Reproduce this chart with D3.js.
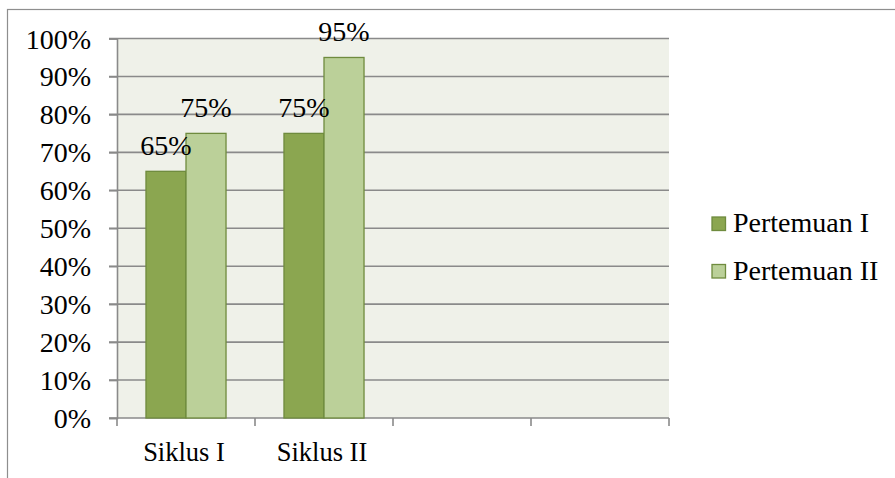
<!DOCTYPE html>
<html>
<head>
<meta charset="utf-8">
<script src="https://cdn.jsdelivr.net/npm/d3@7"></script>
<style>
html,body{margin:0;padding:0;background:#fff;}
svg{display:block;}
text{font-family:"Liberation Serif",serif;fill:#000;}
</style>
</head>
<body>
<script>
const categories = ["Siklus I", "Siklus II", "", ""];
const seriesNames = ["Pertemuan I", "Pertemuan II"];
const pertemuan1 = [0.65, 0.75, null, null];
const pertemuan2 = [0.75, 0.95, null, null];
const yTicks = [0, 0.1, 0.2, 0.3, 0.4, 0.5, 0.6, 0.7, 0.8, 0.9, 1.0];
const colors = ["#8ba650", "#bbd099"];
const strokeColor = "#6f8b3e";

const W = 895, H = 478;
const svg = d3.select("body").append("svg").attr("width", W).attr("height", H);

// outer border
svg.append("rect").attr("x", 7.5).attr("y", 9.5).attr("width", 900).attr("height", 500)
  .attr("fill", "none").attr("stroke", "#8e8e8e").attr("stroke-width", 1.2);

const plot = {left: 117, right: 669, top: 38.5, bottom: 418};

const x = d3.scaleBand().domain(d3.range(categories.length)).range([plot.left, plot.right]).paddingInner(0).paddingOuter(0);
const y = d3.scaleLinear().domain([0, 1]).range([plot.bottom, plot.top]);
const groupFrac = 0.58;
const x1 = d3.scaleBand().domain([0, 1]).range([0, x.bandwidth() * groupFrac]);

svg.append("rect").attr("x", plot.left).attr("y", plot.top)
  .attr("width", plot.right - plot.left).attr("height", plot.bottom - plot.top)
  .attr("fill", "#eff1e9");

// gridlines
svg.append("g").selectAll("line").data(yTicks.filter(d => d > 0)).join("line")
  .attr("x1", plot.left - 8).attr("x2", plot.right)
  .attr("y1", d => y(d)).attr("y2", d => y(d))
  .attr("stroke", "#8a8a8a").attr("stroke-width", 1.6);

// y axis
const yAxis = d3.axisLeft(y).tickValues(yTicks).tickFormat(d3.format(".0%")).tickSize(8).tickPadding(18);
const gy = svg.append("g").attr("transform", `translate(${plot.left},0)`).call(yAxis);
gy.select(".domain").attr("stroke", "#8a8a8a").attr("stroke-width", 1.6);
gy.selectAll(".tick line").attr("stroke", "#8a8a8a").attr("stroke-width", 1.6);
gy.selectAll(".tick text").style("font-family", "Liberation Serif").style("font-size", "28px").attr("fill", "#000").attr("dy", "0.34em");

// x axis
const gx = svg.append("g").attr("transform", `translate(0,${plot.bottom})`);
gx.append("line").attr("x1", plot.left - 8).attr("x2", plot.right).attr("y1", 0).attr("y2", 0)
  .attr("stroke", "#8a8a8a").attr("stroke-width", 1.6);
const boundaries = d3.range(categories.length + 1).map(i => i < categories.length ? x(i) : x(categories.length - 1) + x.bandwidth());
gx.selectAll("line.tk").data(boundaries).join("line").attr("class", "tk")
  .attr("x1", d => d).attr("x2", d => d).attr("y1", 0).attr("y2", 8)
  .attr("stroke", "#8a8a8a").attr("stroke-width", 1.6);
gx.selectAll("text").data(categories).join("text")
  .attr("x", (d, i) => x(i) + x.bandwidth() / 2 - 2).attr("y", 43)
  .attr("text-anchor", "middle").style("font-size", "26.5px").text(d => d);

// bars
const series = [pertemuan1, pertemuan2];
const gb = svg.append("g");
series.forEach((vals, s) => {
  const offset = x.bandwidth() * (1 - groupFrac) / 2;
  const data = vals.map((v, i) => ({v, i})).filter(d => d.v != null);
  gb.selectAll(null).data(data).join("rect")
    .attr("x", d => x(d.i) + offset + x1(s))
    .attr("y", d => y(d.v))
    .attr("width", x1.bandwidth())
    .attr("height", d => y(0) - y(d.v))
    .attr("fill", colors[s]).attr("stroke", strokeColor).attr("stroke-width", 1.3);
});
series.forEach((vals, s) => {
  const offset = x.bandwidth() * (1 - groupFrac) / 2;
  const data = vals.map((v, i) => ({v, i})).filter(d => d.v != null);
  gb.selectAll(null).data(data).join("text")
    .attr("x", d => x(d.i) + offset + x1(s) + x1.bandwidth() / 2)
    .attr("y", d => y(d.v) - 16)
    .attr("text-anchor", "middle").style("font-size", "28px")
    .text(d => d3.format(".0%")(d.v));
});

// legend
const lg = svg.append("g");
seriesNames.forEach((name, i) => {
  const yy = 217 + i * 47.5;
  lg.append("rect").attr("x", 712).attr("y", yy).attr("width", 13.5).attr("height", 13.5)
    .attr("fill", colors[i]).attr("stroke", strokeColor).attr("stroke-width", 1.3);
  lg.append("text").attr("x", 733).attr("y", yy + 15).style("font-size", "28px").text(name);
});
</script>
</body>
</html>
